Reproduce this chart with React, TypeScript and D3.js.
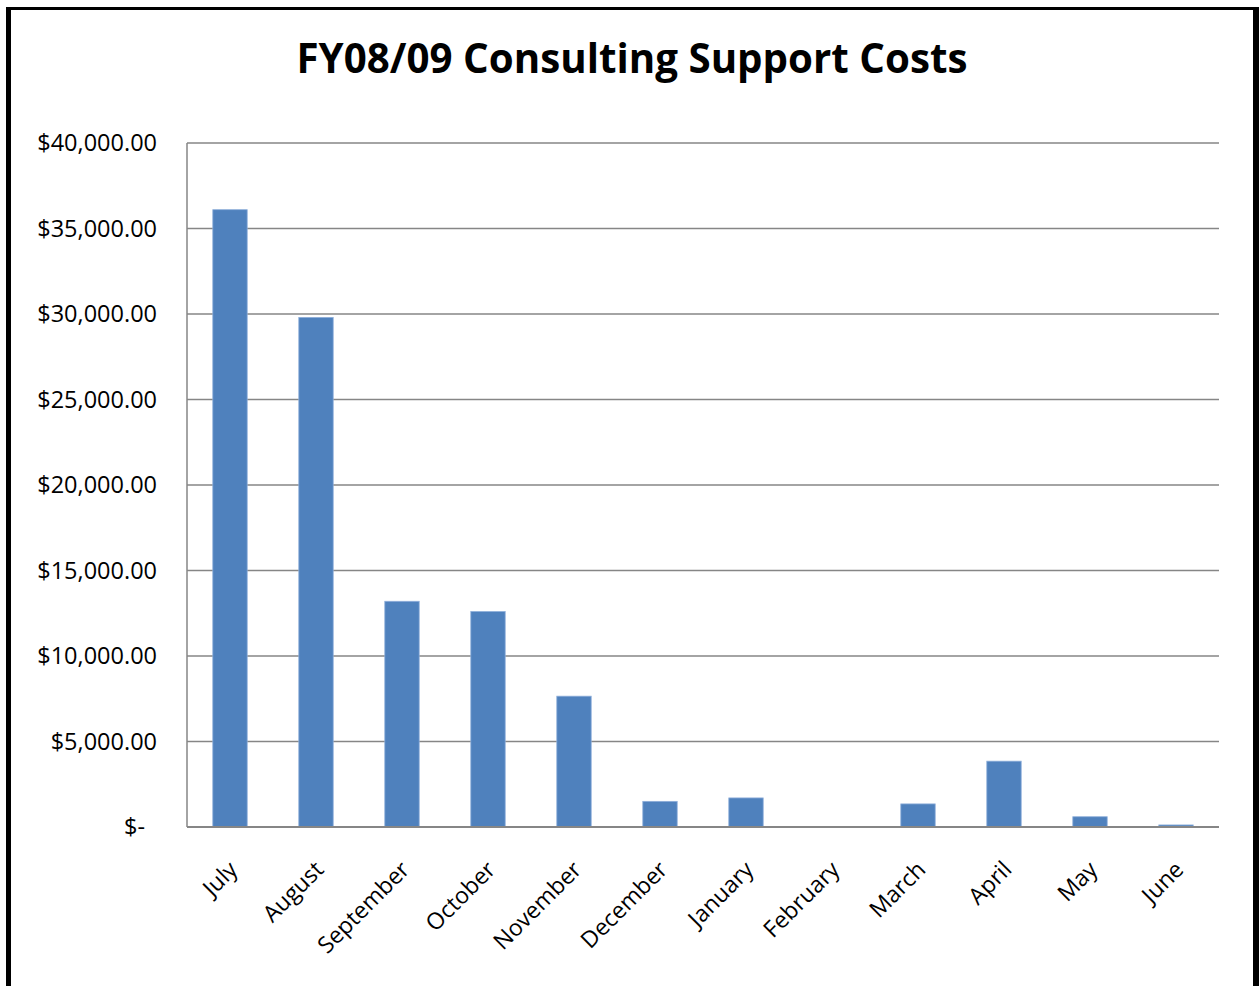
import { useEffect, useRef } from "react";
import * as d3 from "d3";

const months = [
  "July", "August", "September", "October", "November", "December",
  "January", "February", "March", "April", "May", "June",
];
const costs = [36100, 29800, 13200, 12600, 7650, 1500, 1700, 0, 1350, 3850, 600, 120];
const yTicks = [0, 5000, 10000, 15000, 20000, 25000, 30000, 35000, 40000];

function App() {
  const ref = useRef(null);

  useEffect(() => {
    const width = 1259;
    const height = 986;
    const left = 187;
    const right = 1219;
    const top = 143;
    const bottom = 827;

    const svg = d3.select(ref.current);
    svg.selectAll("*").remove();
    svg.attr("width", width).attr("height", height);

    const font = "'Open Sans', 'Noto Sans', sans-serif";

    svg.append("rect").attr("width", width).attr("height", height).attr("fill", "#fff");

    // outer frame
    svg.append("rect").attr("x", 6).attr("y", 7).attr("width", 5).attr("height", height - 7).attr("fill", "#000");
    svg.append("rect").attr("x", 6).attr("y", 7).attr("width", 1253 - 6).attr("height", 3).attr("fill", "#000");
    svg.append("rect").attr("x", 1253).attr("y", 7).attr("width", 6).attr("height", height - 7).attr("fill", "#000");

    const x = d3.scaleBand().domain(months).range([left, right]).paddingInner(0.6).paddingOuter(0.3);
    const y = d3.scaleLinear().domain([0, 40000]).range([bottom, top]);

    // title
    svg.append("text")
      .attr("x", 632)
      .attr("y", 73)
      .attr("text-anchor", "middle")
      .attr("font-family", font)
      .attr("font-weight", "bold")
      .attr("font-size", 42)
      .attr("textLength", 671)
      .attr("lengthAdjust", "spacingAndGlyphs")
      .attr("fill", "#000")
      .text("FY08/09 Consulting Support Costs");

    // gridlines
    svg.append("g")
      .selectAll("line")
      .data(yTicks.filter((d) => d > 0))
      .enter()
      .append("line")
      .attr("x1", left)
      .attr("x2", right)
      .attr("y1", (d) => y(d))
      .attr("y2", (d) => y(d))
      .attr("stroke", "#868686")
      .attr("stroke-width", 1.5);

    // bars
    svg.append("g")
      .selectAll("rect")
      .data(costs)
      .enter()
      .append("rect")
      .attr("x", (d, i) => x(months[i]))
      .attr("y", (d) => y(d))
      .attr("width", x.bandwidth())
      .attr("height", (d) => bottom - y(d))
      .attr("fill", "#4F81BD")
      .attr("stroke", "#8EAEDA")
      .attr("stroke-width", (d) => (d > 0 ? 0.8 : 0));

    // axes
    svg.append("line").attr("x1", left).attr("x2", left).attr("y1", top).attr("y2", bottom)
      .attr("stroke", "#868686").attr("stroke-width", 1.5);
    svg.append("line").attr("x1", left).attr("x2", right).attr("y1", bottom).attr("y2", bottom)
      .attr("stroke", "#868686").attr("stroke-width", 2);

    // y labels
    const fmt = d3.format(",.2f");
    svg.append("g")
      .selectAll("text")
      .data(yTicks)
      .enter()
      .append("text")
      .attr("x", (d) => (d === 0 ? 145 : 157))
      .attr("y", (d) => y(d) + 8)
      .attr("text-anchor", "end")
      .attr("font-family", font)
      .attr("font-size", 23.5)
      .attr("fill", "#000")
      .text((d) => (d === 0 ? "$-" : "$" + fmt(d)));

    // x labels
    svg.append("g")
      .selectAll("text")
      .data(months)
      .enter()
      .append("text")
      .attr("transform", (d) => `translate(${x(d) + x.bandwidth() / 2 + 9},${bottom + 44}) rotate(-45)`)
      .attr("text-anchor", "end")
      .attr("font-family", font)
      .attr("font-size", 23)
      .attr("fill", "#000")
      .text((d) => d);
  }, []);

  return <svg ref={ref} style={{ position: "absolute", left: 0, top: 0 }}></svg>;
}

export default App;
